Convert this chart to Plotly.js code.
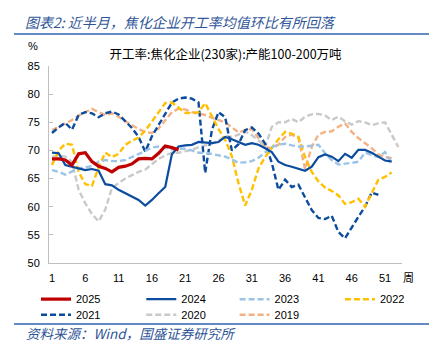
<!DOCTYPE html>
<html>
<head>
<meta charset="utf-8">
<script src="https://cdn.plot.ly/plotly-3.0.1.min.js"></script>
<style>html,body{margin:0;padding:0;background:#fff;}#chart{width:445px;height:352px;}</style>
</head>
<body>
<div id="chart"></div>
<script>
// ---- data ----
const weeks = [1,2,3,4,5,6,7,8,9,10,11,12,13,14,15,16,17,18,19,20,21,22,23,24,25,26,27,28,29,30,31,32,33,34,35,36,37,38,39,40,41,42,43,44,45,46,47,48,49,50,51,52,53];
const xTicks = [1,6,11,16,21,26,31,36,41,46,51];
const yTicks = [50,55,60,65,70,75,80,85];
const chartTitle = '开工率:焦化企业(230家):产能100-200万吨';
const header = '图表2: 近半月，焦化企业开工率均值环比有所回落';
const source = '资料来源：Wind，国盛证券研究所';

const y2025 = [68.5,68.5,68.3,67.4,69.4,69.6,68.0,67.2,66.8,66.2,67.0,67.2,67.6,68.5,68.6,68.5,69.5,70.8,70.5,70.1];
const y2024 = [69.6,69.5,67.4,67.1,66.8,66.5,66.7,66.4,64.0,63.8,63.0,62.4,61.9,61.2,60.2,61.2,62.4,63.5,69.3,70.7,70.9,71.0,71.5,71.4,71.3,71.5,72.4,72.0,71.5,71.0,71.3,71.0,70.4,69.7,68.0,67.4,67.1,66.7,66.4,67.1,68.8,69.3,68.9,68.1,69.4,68.7,70.1,70.1,69.6,68.9,68.2,68.0];
const y2023 = [66.5,66.2,65.7,66.3,66.8,67.0,67.2,68.0,68.3,68.1,68.1,68.3,68.8,69.3,69.9,70.5,70.7,70.5,70.2,70.3,70.3,70.0,69.6,69.6,69.4,69.2,68.9,68.4,67.8,67.9,68.1,68.7,69.7,70.6,71.0,71.2,70.9,70.7,70.7,70.9,71.0,69.5,68.3,67.5,67.6,67.8,68.0,69.6,69.2,68.8,69.7,67.8];
const y2022 = [67.4,70.0,71.2,71.0,66.2,64.0,63.7,67.0,69.6,68.8,69.4,71.0,71.7,72.3,73.5,75.2,76.8,78.4,78.5,77.6,76.7,76.6,76.8,78.4,76.2,73.8,71.9,69.0,64.2,60.2,63.0,66.8,68.8,70.5,72.0,73.3,73.0,72.4,68.8,66.2,64.5,63.4,62.8,62.0,60.5,60.8,61.4,60.0,62.5,64.8,65.3,66.1];
const y2021 = [73.1,74.1,74.9,73.7,76.3,76.8,76.6,75.9,76.6,76.9,76.4,75.2,74.0,72.4,69.8,72.5,74.5,76.6,78.5,79.2,79.4,79.2,78.5,66.0,73.6,76.8,75.9,70.0,71.1,73.6,74.1,73.0,71.2,67.8,63.0,64.8,63.5,63.9,61.5,59.4,58.0,57.8,58.4,55.5,54.4,56.4,58.2,60.0,62.5,62.1];
const y2020 = [68.9,69.0,68.9,68.0,63.0,60.6,58.7,57.4,59.5,63.3,64.2,65.0,65.6,66.2,66.6,67.6,68.5,69.1,69.6,69.6,69.8,70.1,70.6,70.9,71.2,71.7,72.6,72.4,72.8,73.4,72.7,71.8,70.6,74.2,75.0,75.0,75.6,75.0,76.0,76.4,76.5,76.2,75.4,76.0,75.2,74.6,75.2,75.0,74.5,74.8,75.0,72.8,70.6];
const y2019 = [73.6,74.2,74.9,75.4,76.2,76.8,77.4,76.8,76.3,76.6,76.0,75.2,74.5,73.8,73.3,73.1,73.9,75.3,76.8,77.4,77.3,76.8,76.6,76.3,75.8,75.4,75.0,74.1,73.2,73.6,73.8,72.2,70.6,70.4,71.0,72.4,72.8,72.2,66.7,70.6,72.8,73.3,73.4,74.2,74.8,73.3,72.2,71.3,70.4,69.3,68.8,68.6];

const seriesNames = ['2025','2024','2023','2022','2021','2020','2019'];
const seriesData = [y2025,y2024,y2023,y2022,y2021,y2020,y2019];

// ---- styles ----
const styles = [
  {color:'#C00000', width:3.2, dash:'solid'},
  {color:'#0B4C9E', width:2.2, dash:'solid'},
  {color:'#9DC3E6', width:2.4, dash:'6px,3px'},
  {color:'#FFC000', width:2.4, dash:'6px,3px'},
  {color:'#0B4C9E', width:2.4, dash:'6px,3px'},
  {color:'#C9C9C9', width:2.4, dash:'6px,3px'},
  {color:'#F4B183', width:2.4, dash:'6px,3px'}
];
// legend group of each series: row 1 = legend/legend2, row 2 = legend3/legend4
const legendOf = ['legend','legend','legend2','legend2','legend3','legend3','legend4'];

const W = 445, H = 352;
const M = {l:49, r:43, t:66, b:89};
const pw = W - M.l - M.r, ph = H - M.t - M.b;
const px2x = p => (p - M.l) / pw;
const px2y = p => (H - M.b - p) / ph;

const traces = [];
for (let i = seriesNames.length - 1; i >= 0; i--) {
  const ys = seriesData[i];
  traces.push({
    type:'scatter', mode:'lines', name:seriesNames[i],
    x: weeks.slice(0, ys.length), y: ys,
    line:{color:styles[i].color, width:styles[i].width, dash:styles[i].dash},
    legend: legendOf[i], legendrank: i + 1, hoverinfo:'skip'
  });
}

const numFont = 'Liberation Sans, Arial, sans-serif';
const cjkFont = 'Noto Sans CJK SC, sans-serif';
const blue = '#2F5597';

const colStep = 99.3;
function legendBox(xpx, ytop) {
  return {orientation:'h', xref:'container', yref:'container', x:xpx/W, xanchor:'left',
          y:1-ytop/H, yanchor:'top', entrywidth:60.3, entrywidthmode:'pixels',
          font:{family:numFont, size:11, color:'#000'}, bgcolor:'rgba(0,0,0,0)', borderwidth:0};
}

const layout = {
  width:W, height:H,
  margin:{l:M.l, r:M.r, t:M.t, b:M.b, pad:0},
  paper_bgcolor:'#fff', plot_bgcolor:'#fff',
  showlegend:true,
  title:{text:chartTitle, font:{family:cjkFont, size:12.5, color:'#000'},
         xref:'paper', x:0.5, xanchor:'center', yref:'container', y:1-55/H, yanchor:'middle'},
  xaxis:{range:[0.55,53.55], tickmode:'array', tickvals:xTicks, ticktext:xTicks.map(String),
         showline:true, linecolor:'#BFBFBF', linewidth:1, ticks:'', showgrid:false, zeroline:false,
         tickfont:{family:numFont, size:11, color:'#000'}, ticklabelstandoff:5, fixedrange:true},
  yaxis:{range:[50,85], tickmode:'array', tickvals:yTicks, ticktext:yTicks.map(String),
         showline:true, linecolor:'#BFBFBF', linewidth:1, ticks:'inside', ticklen:4, tickcolor:'#BFBFBF',
         showgrid:false, zeroline:false, tickfont:{family:numFont, size:11, color:'#000'},
         ticklabelstandoff:6, fixedrange:true},
  legend:  legendBox(36, 284.7),
  legend2: legendBox(36 + 2*colStep, 284.7),
  legend3: legendBox(36, 300.3),
  legend4: legendBox(36 + 2*colStep, 300.3),
  annotations:[
    {text:'<i>'+header+'</i>', xref:'paper', yref:'paper', x:px2x(23), y:px2y(22), xanchor:'left', yanchor:'middle',
     showarrow:false, font:{family:cjkFont, size:14, color:blue}},
    {text:'<i>'+source+'</i>', xref:'paper', yref:'paper', x:px2x(24), y:px2y(333), xanchor:'left', yanchor:'middle',
     showarrow:false, font:{family:cjkFont, size:13.5, color:blue}},
    {text:'%', xref:'paper', yref:'paper', x:px2x(33), y:px2y(46), xanchor:'center', yanchor:'middle',
     showarrow:false, font:{family:numFont, size:11, color:'#000'}},
    {text:'周', xref:'paper', yref:'paper', x:px2x(408), y:px2y(277), xanchor:'center', yanchor:'middle',
     showarrow:false, font:{family:cjkFont, size:11, color:'#000'}}
  ],
  shapes:[
    {type:'line', xref:'paper', yref:'paper', x0:px2x(14), x1:px2x(429), y0:px2y(34), y1:px2y(34),
     line:{color:'#2E64B0', width:1.5}},
    {type:'line', xref:'paper', yref:'paper', x0:px2x(14), x1:px2x(429), y0:px2y(324), y1:px2y(324),
     line:{color:'#2E64B0', width:1.5}}
  ]
};

Plotly.newPlot('chart', traces, layout, {displayModeBar:false, staticPlot:true});
</script>
</body>
</html>
